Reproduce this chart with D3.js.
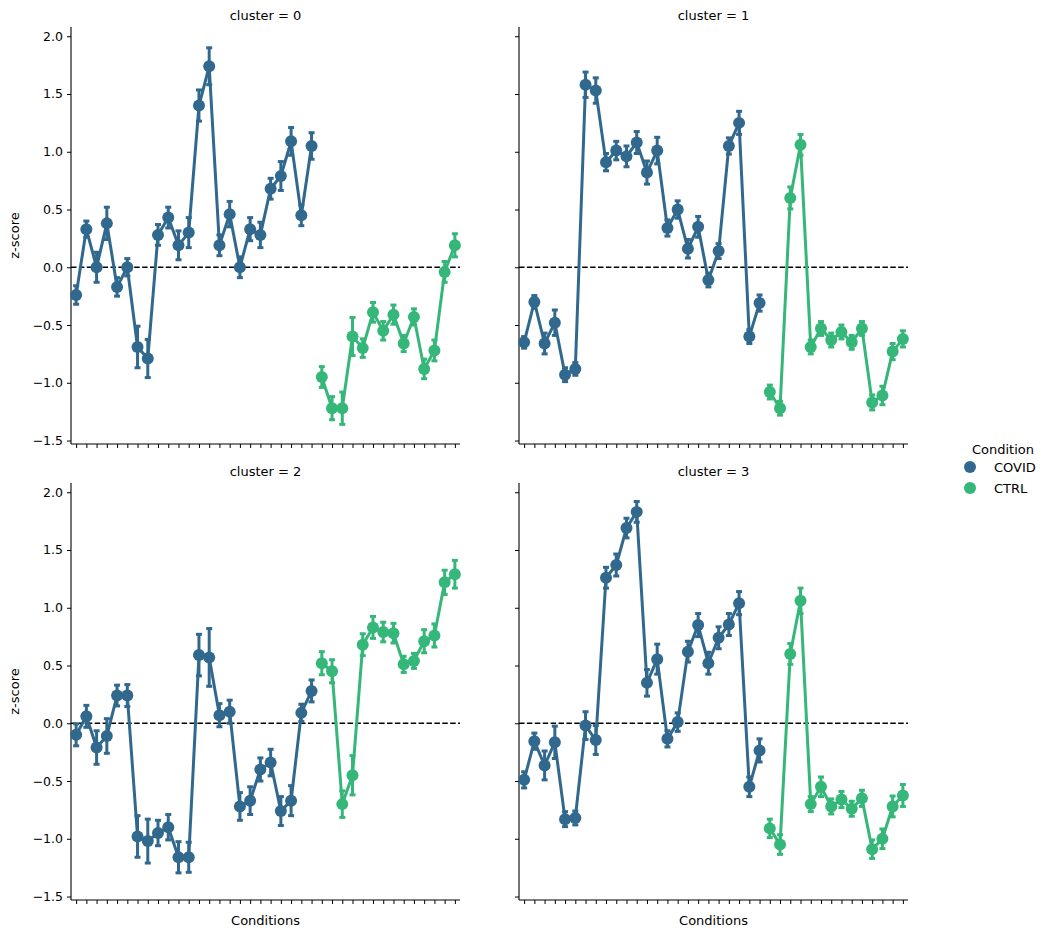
<!DOCTYPE html>
<html>
<head>
<meta charset="utf-8">
<script src="https://cdn.jsdelivr.net/npm/d3@7"></script>
<style>
  body { margin: 0; background: #fff; }
  text { font-family: "DejaVu Sans", sans-serif; fill: #000; }
</style>
</head>
<body>
<div id="chart"></div>
<script>
"use strict";

// 38 conditions on the x axis (labels are blank in the figure)
const categories = d3.range(38).map(i => "C" + i)
const nCovid = 24 // first 24 are COVID, the rest CTRL
const conditions = ["COVID", "CTRL"]
const colors = ["#31688e", "#35b779"]
const yTicks = [-1.5, -1.0, -0.5, 0.0, 0.5, 1.0, 1.5, 2.0]

// mean z-score per condition, one array per cluster
const cluster0 = [-0.24, 0.33, 0.0, 0.38, -0.17, 0.0, -0.69, -0.79, 0.28, 0.43, 0.19, 0.30,
  1.40, 1.74, 0.19, 0.46, 0.0, 0.33, 0.28, 0.68, 0.79, 1.09, 0.45, 1.05,
  -0.95, -1.22, -1.22, -0.60, -0.70, -0.39, -0.55, -0.41, -0.66, -0.43, -0.88, -0.72, -0.04, 0.19]
const cluster1 = [-0.65, -0.30, -0.66, -0.48, -0.93, -0.88, 1.58, 1.53, 0.91, 1.01, 0.96, 1.08,
  0.82, 1.01, 0.34, 0.50, 0.16, 0.35, -0.11, 0.14, 1.05, 1.25, -0.60, -0.31,
  -1.08, -1.22, 0.60, 1.06, -0.69, -0.53, -0.63, -0.56, -0.65, -0.53, -1.17, -1.11, -0.73, -0.62]
const cluster2 = [-0.10, 0.06, -0.21, -0.11, 0.24, 0.24, -0.98, -1.02, -0.95, -0.90, -1.16, -1.16,
  0.59, 0.57, 0.07, 0.10, -0.72, -0.67, -0.40, -0.34, -0.76, -0.67, 0.09, 0.28,
  0.52, 0.45, -0.70, -0.45, 0.68, 0.83, 0.79, 0.78, 0.51, 0.54, 0.71, 0.76, 1.22, 1.29]
const cluster3 = [-0.49, -0.155, -0.365, -0.165, -0.83, -0.82, -0.02, -0.145, 1.26, 1.37, 1.69, 1.83,
  0.35, 0.555, -0.135, 0.01, 0.62, 0.85, 0.52, 0.74, 0.855, 1.04, -0.55, -0.235,
  -0.91, -1.05, 0.60, 1.06, -0.70, -0.55, -0.72, -0.66, -0.74, -0.65, -1.09, -1.00, -0.72, -0.625]

// half-width of the 95% CI per condition
const ci0 = [0.08, 0.07, 0.13, 0.14, 0.08, 0.075, 0.18, 0.165, 0.09, 0.09, 0.125, 0.13,
  0.135, 0.16, 0.09, 0.11, 0.09, 0.10, 0.11, 0.09, 0.125, 0.12, 0.09, 0.115,
  0.09, 0.10, 0.14, 0.165, 0.08, 0.085, 0.08, 0.083, 0.07, 0.07, 0.085, 0.09, 0.09, 0.10]
const ci1 = [0.05, 0.055, 0.09, 0.11, 0.06, 0.055, 0.11, 0.11, 0.075, 0.08, 0.09, 0.095,
  0.10, 0.115, 0.07, 0.075, 0.08, 0.09, 0.06, 0.065, 0.07, 0.10, 0.06, 0.07,
  0.06, 0.06, 0.095, 0.09, 0.06, 0.06, 0.06, 0.06, 0.06, 0.06, 0.065, 0.08, 0.07, 0.07]
const ci2 = [0.095, 0.095, 0.145, 0.15, 0.09, 0.095, 0.18, 0.19, 0.11, 0.11, 0.135, 0.13,
  0.18, 0.25, 0.10, 0.10, 0.12, 0.12, 0.10, 0.115, 0.125, 0.13, 0.075, 0.095,
  0.10, 0.10, 0.115, 0.17, 0.095, 0.095, 0.085, 0.085, 0.07, 0.065, 0.10, 0.10, 0.105, 0.12]
const ci3 = [0.07, 0.07, 0.125, 0.14, 0.065, 0.06, 0.12, 0.125, 0.09, 0.095, 0.085, 0.09,
  0.115, 0.13, 0.07, 0.08, 0.09, 0.10, 0.095, 0.095, 0.095, 0.10, 0.085, 0.10,
  0.08, 0.085, 0.09, 0.11, 0.065, 0.085, 0.065, 0.07, 0.065, 0.07, 0.08, 0.085, 0.09, 0.095]

const clusters = [
  {name: "cluster = 0", means: cluster0, ci: ci0},
  {name: "cluster = 1", means: cluster1, ci: ci1},
  {name: "cluster = 2", means: cluster2, ci: ci2},
  {name: "cluster = 3", means: cluster3, ci: ci3}
]

const width = 1049, height = 937
const colX = [[71, 460], [519, 908]]
const rowY = [[27, 444], [483, 900]]

const svg = d3.select("#chart").append("svg")
  .attr("width", width)
  .attr("height", height)

const condOf = i => i < nCovid ? 0 : 1

clusters.forEach((cl, k) => {
  let col = k % 2, row = Math.floor(k / 2)
  let [x0, x1] = colX[col]
  let [y0, y1] = rowY[row]

  let x = d3.scalePoint().domain(categories).range([x0, x1]).padding(0.5)
  let y = d3.scaleLinear().domain([-1.53, 2.08]).range([y1, y0])

  let g = svg.append("g")

  // axes
  let yAxis = d3.axisLeft(y).tickValues(yTicks).tickSize(4).tickPadding(4)
    .tickFormat(d => col == 0 ? d3.format(".1f")(d).replace("-", "\u2212") : "")
  g.append("g")
    .attr("transform", `translate(${x0},0)`)
    .call(yAxis)
    .call(a => a.select(".domain").attr("d", `M0,${y0}V${y1}`).attr("stroke-width", 1.1))
    .call(a => a.selectAll("text").style("font-size", "12.5px").style("font-family", "DejaVu Sans"))

  let xAxis = d3.axisBottom(x).tickSize(4).tickFormat("")
  g.append("g")
    .attr("transform", `translate(0,${y1})`)
    .call(xAxis)
    .call(a => a.select(".domain").attr("d", `M${x0},0H${x1}`).attr("stroke-width", 1.1))

  // zero line
  g.append("line")
    .attr("x1", x0).attr("x2", x1)
    .attr("y1", y(0)).attr("y2", y(0))
    .attr("stroke", "#000")
    .attr("stroke-width", 1.5)
    .attr("stroke-dasharray", "5.5,2.4")

  // one series per condition
  conditions.forEach((cond, c) => {
    let idx = categories.map((d, i) => i).filter(i => condOf(i) == c)
    let pts = idx.map(i => ({cat: categories[i], m: cl.means[i], e: cl.ci[i]}))

    let eb = g.append("g").attr("stroke", colors[c]).attr("stroke-width", 3)
    eb.selectAll(".eb").data(pts).enter().append("line")
      .attr("x1", d => x(d.cat)).attr("x2", d => x(d.cat))
      .attr("y1", d => y(d.m - d.e)).attr("y2", d => y(d.m + d.e))
    eb.selectAll(".capTop").data(pts).enter().append("line")
      .attr("x1", d => x(d.cat) - 3).attr("x2", d => x(d.cat) + 3)
      .attr("y1", d => y(d.m + d.e)).attr("y2", d => y(d.m + d.e))
    eb.selectAll(".capBot").data(pts).enter().append("line")
      .attr("x1", d => x(d.cat) - 3).attr("x2", d => x(d.cat) + 3)
      .attr("y1", d => y(d.m - d.e)).attr("y2", d => y(d.m - d.e))

    let line = d3.line().x(d => x(d.cat)).y(d => y(d.m))
    g.append("path")
      .datum(pts)
      .attr("d", line)
      .attr("fill", "none")
      .attr("stroke", colors[c])
      .attr("stroke-width", 3)
      .attr("stroke-linejoin", "round")

    g.selectAll(".pt" + c).data(pts).enter().append("circle")
      .attr("cx", d => x(d.cat))
      .attr("cy", d => y(d.m))
      .attr("r", 6)
      .attr("fill", colors[c])
  })

  // facet title
  g.append("text")
    .attr("x", (x0 + x1) / 2)
    .attr("y", y0 - 7)
    .attr("text-anchor", "middle")
    .style("font-size", "13px")
    .text(cl.name)

  if (col == 0) {
    g.append("text")
      .attr("transform", `translate(19,${(y0 + y1) / 2})rotate(-90)`)
      .attr("text-anchor", "middle")
      .style("font-size", "13px")
      .text("z-score")
  }
  if (row == 1) {
    g.append("text")
      .attr("x", (x0 + x1) / 2)
      .attr("y", y1 + 25)
      .attr("text-anchor", "middle")
      .style("font-size", "13px")
      .text("Conditions")
  }
})

// legend
let legend = svg.append("g")
legend.append("text")
  .attr("x", 1003).attr("y", 454)
  .attr("text-anchor", "middle")
  .style("font-size", "13px")
  .text("Condition")
conditions.forEach((cond, c) => {
  legend.append("circle")
    .attr("cx", 970).attr("cy", 467 + c * 21)
    .attr("r", 6)
    .attr("fill", colors[c])
  legend.append("text")
    .attr("x", 994).attr("y", 472 + c * 21)
    .style("font-size", "13px")
    .text(cond)
})
</script>
</body>
</html>
